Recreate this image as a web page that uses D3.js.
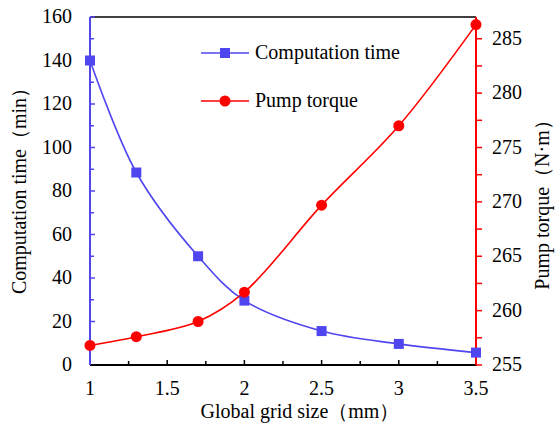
<!DOCTYPE html>
<html lang="en">
<head>
<meta charset="UTF-8">
<title>Computation time and pump torque</title>
<script src="https://d3js.org/d3.v7.min.js"></script>
<style>
  body { margin: 0; background: #fff; }
</style>
</head>
<body>
<div id="chart"></div>
<script>

// Data
const gridSize = [1, 1.3, 1.7, 2, 2.5, 3, 3.5];
const computationTime = [140, 88.5, 50, 29.6, 15.6, 9.7, 5.7];
const pumpTorque = [256.8, 257.6, 259.0, 261.7, 269.7, 277.0, 286.3];
const xTicks = [1, 1.5, 2, 2.5, 3, 3.5];
const leftTicks = [0, 20, 40, 60, 80, 100, 120, 140, 160];
const rightTicks = [255, 260, 265, 270, 275, 280, 285];

const width = 555, height = 428;
const margin = {top: 17, right: 79, bottom: 63, left: 90};
const blue = "#5046f0", red = "#ff0000";
const fontSize = 20;

const svg = d3.select("#chart").append("svg")
    .attr("width", width)
    .attr("height", height)
    .attr("font-family", "Liberation Serif")
    .attr("font-size", fontSize);

const x = d3.scaleLinear().domain([1, 3.5]).range([margin.left, width - margin.right]);
const yL = d3.scaleLinear().domain([0, 160]).range([height - margin.bottom, margin.top]);
const yR = d3.scaleLinear().domain([255, 287]).range([height - margin.bottom, margin.top]);

const x0 = margin.left, x1 = width - margin.right;
const y0 = height - margin.bottom, y1 = margin.top;

// top border
svg.append("line")
    .attr("x1", x0).attr("x2", x1).attr("y1", y1).attr("y2", y1)
    .attr("stroke", "#000").attr("stroke-width", 1.5);

// bottom axis (ticks inward)
const xAxis = svg.append("g").attr("transform", `translate(0,${y0})`);
xAxis.selectAll("line.minor")
    .data(d3.range(1.25, 3.5, 0.5))
    .join("line")
    .attr("x1", d => x(d)).attr("x2", d => x(d))
    .attr("y1", 0).attr("y2", -4)
    .attr("stroke", "#000").attr("stroke-width", 1.5);
xAxis.selectAll("line.major")
    .data(xTicks)
    .join("line")
    .attr("x1", d => x(d)).attr("x2", d => x(d))
    .attr("y1", 0).attr("y2", -5)
    .attr("stroke", "#000").attr("stroke-width", 1.5);
xAxis.selectAll("text")
    .data(xTicks)
    .join("text")
    .attr("x", d => x(d)).attr("y", 30)
    .attr("text-anchor", "middle")
    .text(d => d);
svg.append("line")
    .attr("x1", x0).attr("x2", x1 + 1).attr("y1", y0).attr("y2", y0)
    .attr("stroke", "#000").attr("stroke-width", 2);

// left axis (blue, ticks inward)
const left = svg.append("g").attr("transform", `translate(${x0},0)`);
left.selectAll("line.minor")
    .data(d3.range(10, 160, 20))
    .join("line")
    .attr("x1", 0).attr("x2", 4)
    .attr("y1", d => yL(d)).attr("y2", d => yL(d))
    .attr("stroke", blue).attr("stroke-width", 1.5);
left.selectAll("line.major")
    .data(leftTicks.slice(1))
    .join("line")
    .attr("x1", 0).attr("x2", 5)
    .attr("y1", d => yL(d)).attr("y2", d => yL(d))
    .attr("stroke", blue).attr("stroke-width", 1.5);
left.selectAll("text")
    .data(leftTicks)
    .join("text")
    .attr("x", -18).attr("y", d => yL(d) + 6)
    .attr("text-anchor", "end")
    .text(d => d);
svg.append("line")
    .attr("x1", x0).attr("x2", x0).attr("y1", y1).attr("y2", y0)
    .attr("stroke", blue).attr("stroke-width", 2);

// right axis (red, ticks outward)
const right = svg.append("g").attr("transform", `translate(${x1},0)`);
right.selectAll("line.minor")
    .data(d3.range(257.5, 287, 5))
    .join("line")
    .attr("x1", 0).attr("x2", 6)
    .attr("y1", d => yR(d)).attr("y2", d => yR(d))
    .attr("stroke", red).attr("stroke-width", 1.5);
right.selectAll("line.major")
    .data(rightTicks)
    .join("line")
    .attr("x1", 0).attr("x2", 6)
    .attr("y1", d => yR(d)).attr("y2", d => yR(d))
    .attr("stroke", red).attr("stroke-width", 1.5);
right.selectAll("text")
    .data(rightTicks)
    .join("text")
    .attr("x", 16).attr("y", d => yR(d) + 6)
    .attr("text-anchor", "start")
    .text(d => d);
svg.append("line")
    .attr("x1", x1).attr("x2", x1).attr("y1", y1).attr("y2", y0)
    .attr("stroke", red).attr("stroke-width", 2);

// axis titles
svg.append("text")
    .attr("transform", "translate(26,186) rotate(-90)")
    .attr("text-anchor", "middle")
    .text("Computation time（min）");
svg.append("text")
    .attr("transform", "translate(549,200) rotate(-90)")
    .attr("text-anchor", "middle")
    .text("Pump torque（N·m）");
svg.append("text")
    .attr("x", 300).attr("y", 418)
    .attr("text-anchor", "middle")
    .text("Global grid size（mm）");

// series
const timeData = gridSize.map((g, i) => [g, computationTime[i]]);
const torqueData = gridSize.map((g, i) => [g, pumpTorque[i]]);

svg.append("path")
    .datum(timeData)
    .attr("fill", "none")
    .attr("stroke", blue)
    .attr("stroke-width", 1.6)
    .attr("d", d3.line().x(d => x(d[0])).y(d => yL(d[1])).curve(d3.curveCatmullRom));

svg.append("path")
    .datum(torqueData)
    .attr("fill", "none")
    .attr("stroke", red)
    .attr("stroke-width", 1.6)
    .attr("d", d3.line().x(d => x(d[0])).y(d => yR(d[1])).curve(d3.curveCatmullRom));

svg.append("g").selectAll("rect")
    .data(timeData)
    .join("rect")
    .attr("x", d => x(d[0]) - 5).attr("y", d => yL(d[1]) - 5)
    .attr("width", 10).attr("height", 10)
    .attr("fill", blue);

svg.append("g").selectAll("circle")
    .data(torqueData)
    .join("circle")
    .attr("cx", d => x(d[0])).attr("cy", d => yR(d[1]))
    .attr("r", 5.5)
    .attr("fill", red);

// legend
const legend = svg.append("g");
const items = [
    {name: "Computation time", color: blue, shape: "square", y: 53},
    {name: "Pump torque", color: red, shape: "circle", y: 101}
];
items.forEach(it => {
    legend.append("line")
        .attr("x1", 201).attr("x2", 249).attr("y1", it.y).attr("y2", it.y)
        .attr("stroke", it.color).attr("stroke-width", 1.6);
    if (it.shape === "square") {
        legend.append("rect")
            .attr("x", 225 - 5).attr("y", it.y - 5)
            .attr("width", 10).attr("height", 10)
            .attr("fill", it.color);
    } else {
        legend.append("circle")
            .attr("cx", 225).attr("cy", it.y).attr("r", 5.5)
            .attr("fill", it.color);
    }
    legend.append("text")
        .attr("x", 255).attr("y", it.y + 6)
        .text(it.name);
});

</script>
</body>
</html>
